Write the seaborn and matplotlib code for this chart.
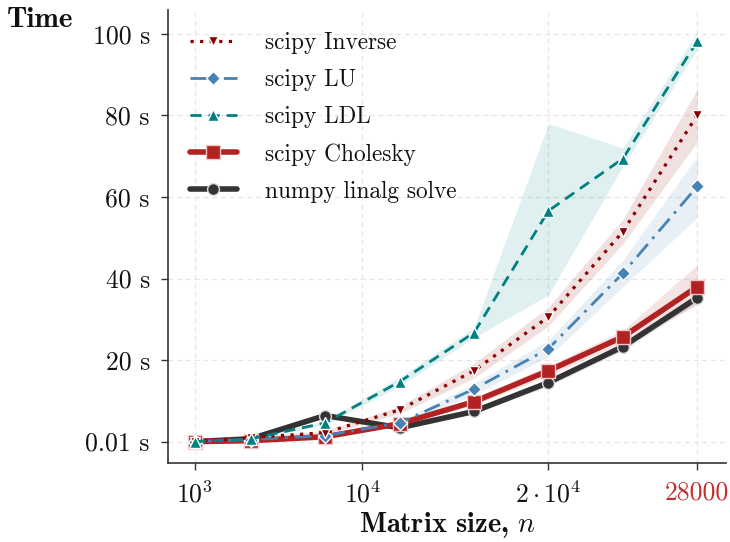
import numpy as np
import pandas as pd
import matplotlib
matplotlib.use("Agg")
import matplotlib.pyplot as plt
import seaborn as sns

# ---------------- data ----------------
sizes = [1000, 4000, 8000, 12000, 16000, 20000, 24000, 28000]

inv_mid = [0.01, 1.0, 2.2, 7.8, 17.4, 30.6, 51.5, 80.1]
inv_lo  = [0.01, 0.8, 1.8, 6.9, 15.6, 28.4, 48.5, 73.5]
inv_hi  = [0.01, 1.2, 2.6, 8.7, 19.2, 33.0, 54.5, 86.5]

lu_mid = [0.01, 0.5, 1.5, 4.6, 12.9, 22.8, 41.3, 62.6]
lu_lo  = [0.01, 0.4, 1.2, 4.2, 11.5, 20.8, 38.0, 55.0]
lu_hi  = [0.01, 0.6, 1.8, 5.0, 14.3, 24.8, 44.5, 70.0]

ldl_mid = [0.01, 0.7, 4.6, 14.7, 26.7, 56.6, 69.4, 98.2]
ldl_lo  = [0.01, 0.6, 4.1, 13.6, 25.5, 36.0, 67.5, 96.2]
ldl_hi  = [0.01, 0.8, 5.1, 15.8, 28.0, 78.0, 72.0, 100.5]

chol_mid = [0.01, 0.25, 1.2, 4.4, 9.8, 17.4, 25.7, 38.0]
chol_lo  = [0.01, 0.15, 1.0, 4.0, 9.0, 16.2, 24.2, 33.5]
chol_hi  = [0.01, 0.35, 1.5, 4.9, 10.7, 18.6, 27.3, 43.4]

np_mid = [0.01, 0.7, 6.4, 3.4, 7.4, 14.5, 23.3, 35.3]
np_lo  = [0.01, 0.6, 6.1, 3.1, 6.9, 13.7, 22.3, 34.1]
np_hi  = [0.01, 0.8, 6.7, 3.7, 7.9, 15.3, 24.3, 36.5]

series_labels = ["scipy Inverse", "scipy LU", "scipy LDL", "scipy Cholesky", "numpy linalg solve"]

x_ticks = [1000, 10000, 20000, 28000]
x_ticklabels = [r"$10^3$", r"$10^4$", r"$2\cdot10^4$", "28000"]
y_ticks = [0.01, 20, 40, 60, 80, 100]
y_ticklabels = ["0.01 s", "20 s", "40 s", "60 s", "80 s", "100 s"]

# ---------------- style ----------------
sns.set_theme(style="white")
plt.rcParams["font.family"] = ["cmr10", "DejaVu Serif"]
plt.rcParams["mathtext.fontset"] = "cm"
plt.rcParams["axes.unicode_minus"] = False
plt.rcParams["axes.formatter.use_mathtext"] = True
for k in ("text.color", "axes.labelcolor", "xtick.color", "ytick.color"):
    plt.rcParams[k] = "#111111"


def long_df(mid, lo, hi):
    rows = []
    for x, a, b, c in zip(sizes, lo, mid, hi):
        for v in (a, b, c):
            rows.append({"n": x, "t": v})
    return pd.DataFrame(rows)


fig = plt.figure(figsize=(7.3, 5.42), dpi=100)
ax = fig.add_axes([0.230, 0.146, 0.765, 0.836])

specs = {
    "numpy linalg solve": dict(mid=np_mid, lo=np_lo, hi=np_hi, color="#333333", ls="-", marker="o",
                               lw=4.0, ms=8.5, mec="#dddddd", z=2),
    "scipy Cholesky": dict(mid=chol_mid, lo=chol_lo, hi=chol_hi, color="#B22222", ls="-", marker="s",
                           lw=4.0, ms=10.5, mec="#f3c4c4", z=3),
    "scipy LU": dict(mid=lu_mid, lo=lu_lo, hi=lu_hi, color="#4682B4", ls=(0, (6, 2.5, 1, 2.5)), marker="D",
                     lw=2.0, ms=7.5, mec="white", z=4),
    "scipy Inverse": dict(mid=inv_mid, lo=inv_lo, hi=inv_hi, color="#8B0000", ls=(0, (1, 2)), marker="v",
                          lw=2.3, ms=7.5, mec="white", z=5),
    "scipy LDL": dict(mid=ldl_mid, lo=ldl_lo, hi=ldl_hi, color="#008080", ls=(0, (4, 2.5)), marker="^",
                      lw=2.0, ms=8, mec="white", z=6),
}

for name, s in specs.items():
    df = long_df(s["mid"], s["lo"], s["hi"])
    sns.lineplot(data=df, x="n", y="t", ax=ax, estimator="median", errorbar=("pi", 100),
                 color=s["color"], linestyle=s["ls"], marker=s["marker"], linewidth=s["lw"],
                 markersize=s["ms"], markeredgecolor=s["mec"], markeredgewidth=1.0,
                 err_kws={"alpha": 0.12, "linewidth": 0}, label=name, zorder=s["z"])

ax.set_xlim(-450, 29560)
ax.set_ylim(-5.2, 105.9)

ax.set_xticks(x_ticks)
ax.set_xticklabels(x_ticklabels)
ax.set_yticks(y_ticks)
ax.set_yticklabels(y_ticklabels)
ax.tick_params(axis="both", which="major", labelsize=18.5, length=5, width=1.0,
               direction="out", color="#333333", bottom=True, left=True, pad=8)
ax.get_xticklabels()[-1].set_color("#C62D2D")

ax.grid(True, color="#e6e6e6", linestyle=(0, (4, 3)), linewidth=0.9)
ax.set_axisbelow(True)
sns.despine(ax=ax)
for sp in ("left", "bottom"):
    ax.spines[sp].set_color("#333333")
    ax.spines[sp].set_linewidth(1.2)

ax.set_xlabel(r"Matrix size, $n$", fontsize=20.5, family="cmb10", labelpad=2)
ax.set_ylabel("")
fig.text(0.010, 0.963, "Time", fontsize=21, family="cmb10", ha="left", va="center")

handles, labels = ax.get_legend_handles_labels()
order = [labels.index(l) for l in series_labels]
leg = ax.legend([handles[i] for i in order], [labels[i] for i in order],
                loc="upper left", bbox_to_anchor=(0.0, 1.0), frameon=False,
                fontsize=16.8, handlelength=2.0, handletextpad=1.2, labelspacing=0.64,
                borderaxespad=0.55)

fig.savefig("out.png", dpi=100)
